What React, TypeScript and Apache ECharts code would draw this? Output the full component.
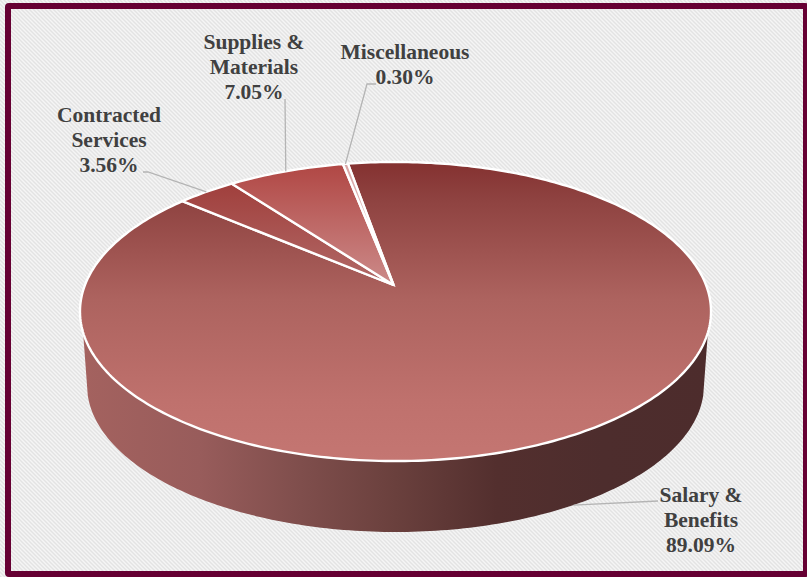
import React, { useEffect, useRef } from "react";
import * as echarts from "echarts";

// Budget shares, in clockwise drawing order
const categories = ["Salary &\nBenefits", "Contracted\nServices", "Supplies &\nMaterials", "Miscellaneous"];
const shares = [89.09, 3.56, 7.05, 0.3];
const shareLabels = ["89.09%", "3.56%", "7.05%", "0.30%"];

// Rotation of the first slice, degrees clockwise from the back of the disc
const firstSliceAngle = -10.3;

// Perspective of the disc: hub position, horizontal and depth scale, foreshortening
const HUB_X = 395.5;
const HUB_Y = 286;
const SCALE_X = 310.9;
const SCALE_Y = 145.2;
const FORESHORTEN = -0.1706;

// Point where the slice edges meet on the top face
const APEX = [393.5, 285];

// Outlines of the top face and of the bottom rim
const TOP_RIM = { cx: 395.5, cy: 311.5, rx: 315.5, ry: 149.5 };
const BOTTOM_RIM = { cx: 395.5, cy: 385, rx: 308.5, ry: 147 };

const MAROON = "#660033";
const TEXT = "#404040";
const LEADER = "#b4b4b4";

// One tile of the diagonal hatch behind the chart
const HATCH =
  "url(\"data:image/svg+xml," +
  encodeURIComponent(
    '<svg xmlns="http://www.w3.org/2000/svg" width="4" height="4"><rect width="4" height="4" fill="#f5f5f5"/>' +
      '<path d="M-1 -1L5 5M-1 3L1 5M3 -1L5 1" stroke="#e3e3e3" stroke-width="1.4"/></svg>'
  ) +
  '")';

const stop = (offset: number, color: string) => ({ offset, color });
const vertical = (y0: number, y1: number, stops: any[]) =>
  new echarts.graphic.LinearGradient(0, y0, 0, y1, stops, true);

const sliceFills = [
  vertical(162, 461, [stop(0, "#843130"), stop(0.13, "#8f4341"), stop(0.46, "#ad635f"), stop(0.8, "#bf716d"), stop(1, "#c47672")]),
  vertical(183, 286, [stop(0, "#a03f3c"), stop(1, "#b26a68")]),
  vertical(163, 286, [stop(0, "#b04643"), stop(1, "#cc8b8a")]),
  vertical(163, 286, [stop(0, "#d9a5a4"), stop(1, "#eccccc")]),
];

const wallFill = new echarts.graphic.LinearGradient(
  80,
  0,
  711,
  0,
  [stop(0, "#a4625f"), stop(0.19, "#985c5b"), stop(0.35, "#7f4e4c"), stop(0.5, "#6a403d"), stop(0.66, "#532f2e"), stop(0.83, "#4d2d2d"), stop(1, "#4d2c2c")],
  true
);

// Label anchors and leader elbows, one entry per slice
const labelBoxes = [
  { x: 701, y: 494 },
  { x: 109, y: 114.5 },
  { x: 254, y: 41 },
  { x: 405, y: 51 },
];
const leaderElbows: number[][][] = [
  [[658, 501]],
  [[143, 172], [148, 172]],
  [[285, 99]],
  [[376, 84], [367, 84]],
];

// Maps an angle on the disc to the screen through the perspective above
function project(deg: number): number[] {
  const t = (deg * Math.PI) / 180;
  const across = Math.sin(t);
  const depth = -Math.cos(t);
  const w = 1 + FORESHORTEN * depth;
  return [HUB_X + (SCALE_X * across) / w, HUB_Y + (SCALE_Y * depth) / w];
}

function rimPoint(rim: typeof TOP_RIM, phi: number): number[] {
  return [rim.cx + rim.rx * Math.cos(phi), rim.cy + rim.ry * Math.sin(phi)];
}

const total = shares.reduce((a, b) => a + b, 0);
const sweeps = shares.map((v) => (v / total) * 360);
const starts = sweeps.map((_, i) => firstSliceAngle + sweeps.slice(0, i).reduce((a, b) => a + b, 0));

function renderWall() {
  const pts: number[][] = [];
  const topEdge = Math.asin(0.14);
  const bottomEdge = Math.asin(0.07);
  const steps = 160;
  for (let i = 0; i <= steps; i++) {
    pts.push(rimPoint(TOP_RIM, topEdge + ((Math.PI - 2 * topEdge) * i) / steps));
  }
  for (let i = steps; i >= 0; i--) {
    pts.push(rimPoint(BOTTOM_RIM, bottomEdge + ((Math.PI - 2 * bottomEdge) * i) / steps));
  }
  return { type: "polygon", shape: { points: pts }, style: { fill: wallFill, stroke: "none" } };
}

function renderSlice(params: any, api: any) {
  const i = params.dataIndex;
  const sweep = (api.value(0) / total) * 360;
  const start = starts[i];
  const pts: number[][] = [APEX];
  const steps = Math.max(2, Math.ceil(sweep));
  for (let s = 0; s <= steps; s++) pts.push(project(start + (sweep * s) / steps));

  // The salary leader lands on the bottom rim, the others on the top rim
  const mid = project(start + sweep / 2);
  const anchor =
    i === 0
      ? [
          BOTTOM_RIM.cx + ((mid[0] - TOP_RIM.cx) * BOTTOM_RIM.rx) / TOP_RIM.rx,
          BOTTOM_RIM.cy + ((mid[1] - TOP_RIM.cy) * BOTTOM_RIM.ry) / TOP_RIM.ry,
        ]
      : mid;

  return {
    type: "group",
    children: [
      {
        type: "polygon",
        shape: { points: pts },
        style: { fill: sliceFills[i], stroke: "#ffffff", lineWidth: 2.4, lineJoin: "miter", miterLimit: 3 },
      },
      {
        type: "polyline",
        shape: { points: [...leaderElbows[i], anchor] },
        style: { fill: "none", stroke: LEADER, lineWidth: 1.3 },
      },
      {
        type: "text",
        style: {
          text: `${categories[i]}\n${shareLabels[i]}`,
          x: labelBoxes[i].x,
          y: labelBoxes[i].y - 12,
          align: "center",
          verticalAlign: "top",
          lineHeight: 25,
          fill: TEXT,
          font: 'bold 21.5px "Liberation Serif"',
        },
      },
    ],
  };
}

export default function App() {
  const ref = useRef<HTMLDivElement>(null);

  useEffect(() => {
    document.body.style.margin = "0";
    const chart = echarts.init(ref.current as HTMLDivElement, undefined, { renderer: "svg" });
    chart.setOption({
      animation: false,
      graphic: [
        {
          type: "rect",
          z: 100,
          silent: true,
          shape: { x: 8, y: 6, width: 798, height: 568, r: 1 },
          style: { fill: "none", stroke: MAROON, lineWidth: 6 },
        },
      ],
      series: [
        {
          type: "custom",
          coordinateSystem: "none",
          silent: true,
          clip: false,
          data: [[total]],
          renderItem: renderWall,
        },
        {
          type: "custom",
          coordinateSystem: "none",
          silent: true,
          clip: false,
          data: shares.map((v, i) => ({ name: categories[i], value: [v] })),
          renderItem: renderSlice,
        },
      ],
    });
    return () => chart.dispose();
  }, []);

  return (
    <div
      ref={ref}
      style={{
        position: "absolute",
        left: 0,
        top: 0,
        width: 807,
        height: 577,
        backgroundColor: "#ffffff",
        backgroundImage: HATCH,
      }}
    />
  );
}
